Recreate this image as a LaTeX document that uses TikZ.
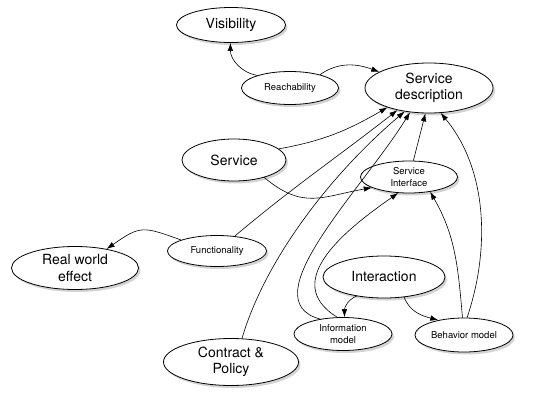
\documentclass[tikz,border=0pt]{standalone}
\usepackage{fontspec}
\setmainfont{TeX Gyre Heros}
\usetikzlibrary{arrows.meta,shapes.geometric,shadows}
\tikzset{
  globo/.style={ellipse,draw=black,fill=white,line width=0.8pt,inner sep=0pt,align=center,font=\fontsize{14}{16.5}\selectfont,drop shadow={shadow xshift=2pt,shadow yshift=-2.5pt,opacity=0.35}},
  globochico/.style={globo,font=\fontsize{9.5}{12}\selectfont},
  flecha/.style={line width=0.6pt,-{Latex[length=8pt,width=5.5pt]}},
}

\begin{document}
\begin{tikzpicture}[x=1pt,y=1pt]
\useasboundingbox (0,0) rectangle (541,400);
% nodos
\node[globo,minimum width=109pt,minimum height=35pt] (vis) at (231,375) {Visibility};
\node[globochico,minimum width=97pt,minimum height=33pt] (reach) at (290,312) {Reachability};
\node[globo,minimum width=128pt,minimum height=50pt] (sdesc) at (429,312) {Service\\description};
\node[globo,minimum width=104pt,minimum height=42pt] (serv) at (234,240) {Service};
\node[globochico,minimum width=97pt,minimum height=32pt] (sif) at (409,223) {Service\\Interface};
\node[globochico,minimum width=99pt,minimum height=31pt] (func) at (217,149) {Functionality};
\node[globo,minimum width=127pt,minimum height=43pt] (rwe) at (75,132) {Real world\\effect};
\node[globo,minimum width=122pt,minimum height=42pt] (inter) at (384,123) {Interaction};
\node[globochico,minimum width=98pt,minimum height=33pt] (info) at (343,66) {Information\\model};
\node[globochico,minimum width=98pt,minimum height=34pt] (beh) at (464,65) {Behavior model};
\node[globo,minimum width=135pt,minimum height=47pt] (contr) at (231,38) {Contract \&\\Policy};
% flechas
\draw[flecha] (reach.159) to[out=170,in=-90] (vis.-92);
\draw[flecha] (reach.24) to[out=35,in=160] (sdesc.162);
\draw[flecha] (serv.14) to[out=10,in=-150] (sdesc.205);
\draw[flecha] (serv.-30) to[out=-40,in=190,looseness=1.2] (sif.196);
\draw[flecha] (func.40) to[out=40,in=-142] (sdesc.215);
\draw[flecha] (func.163) to[out=160,in=35,looseness=1.4] (rwe.31);
\draw[flecha] (contr.65) .. controls (265,140) and (330,225) .. (sdesc.224);
\draw[flecha] (info.147) .. controls (250,100) and (362,210) .. (sdesc.232);
\draw[flecha] (info.109) .. controls (280,118) and (345,170) .. (sif.236);
\draw[flecha] (sif.75) -- (sdesc.262);
\draw[flecha] (beh.95) to[out=95,in=-60] (sif.-35);
\draw[flecha] (beh.80) .. controls (490,150) and (488,230) .. (sdesc.-65);
\draw[flecha] (inter.215) to[out=200,in=90] (info.85);
\draw[flecha] (inter.-45) to[out=-70,in=165] (beh.150);
\end{tikzpicture}
\end{document}
